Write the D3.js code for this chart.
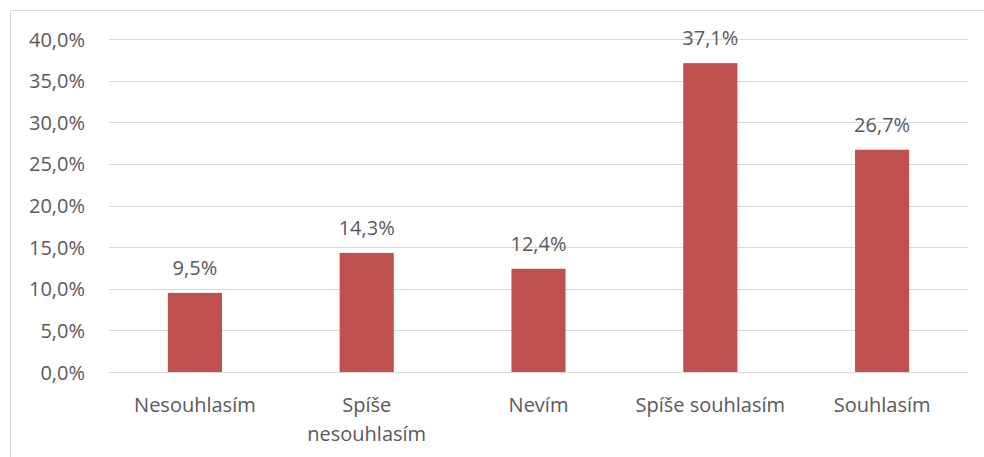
<!DOCTYPE html>
<html>
<head>
<meta charset="utf-8">
<script src="https://cdn.jsdelivr.net/npm/d3@7"></script>
<style>
  html, body { margin: 0; padding: 0; background: #fff; }
  svg { display: block; }
  text { font-family: "Open Sans", sans-serif; fill: #595959; }
</style>
</head>
<body>
<svg id="chart" width="984" height="457"></svg>
<script>
// Survey answers and their shares (%)
const categories = ["Nesouhlasím", "Spíše nesouhlasím", "Nevím", "Spíše souhlasím", "Souhlasím"];
const categoryLines = [["Nesouhlasím"], ["Spíše", "nesouhlasím"], ["Nevím"], ["Spíše souhlasím"], ["Souhlasím"]];
const values = [9.5, 14.3, 12.4, 37.1, 26.7];
const yTicks = [0, 5, 10, 15, 20, 25, 30, 35, 40];

const svg = d3.select("#chart");
const W = 984, H = 457;
const plot = { left: 109, right: 968, top: 39, bottom: 372 };
const fmt = v => d3.format(".1f")(v).replace(".", ",") + "%";
const fontSize = "20px";

// Outer frame of the chart area
svg.append("rect")
  .attr("x", 10.5).attr("y", 10.5)
  .attr("width", W + 20).attr("height", H + 20)
  .attr("fill", "none").attr("stroke", "#d9d9d9").attr("stroke-width", 1);

const x = d3.scaleBand().domain(categories).range([plot.left, plot.right]).paddingInner(0.685).paddingOuter(0.3425);
const y = d3.scaleLinear().domain([0, 40]).range([plot.bottom, plot.top]);

// Horizontal gridlines
svg.append("g").selectAll("line").data(yTicks).join("line")
  .attr("x1", plot.left).attr("x2", plot.right)
  .attr("y1", d => Math.round(y(d)) + 0.5).attr("y2", d => Math.round(y(d)) + 0.5)
  .attr("stroke", "#d9d9d9").attr("stroke-width", 1);

// Y-axis tick labels
svg.append("g").selectAll("text").data(yTicks).join("text")
  .attr("x", 85).attr("y", d => y(d) + 7.5)
  .attr("text-anchor", "end")
  .style("font-size", fontSize)
  .text(d => fmt(d));

// Bars
svg.append("g").selectAll("rect").data(values).join("rect")
  .attr("x", (d, i) => x(categories[i]))
  .attr("y", d => y(d))
  .attr("width", x.bandwidth())
  .attr("height", d => y(0) - y(d))
  .attr("fill", "#c0504d");

// Value labels above bars
svg.append("g").selectAll("text").data(values).join("text")
  .attr("x", (d, i) => x(categories[i]) + x.bandwidth() / 2)
  .attr("y", d => y(d) - 18)
  .attr("text-anchor", "middle")
  .style("font-size", fontSize)
  .text(d => fmt(d));

// Category labels
const cat = svg.append("g").selectAll("text").data(categoryLines).join("text")
  .attr("x", (d, i) => x(categories[i]) + x.bandwidth() / 2)
  .attr("y", 412)
  .attr("text-anchor", "middle")
  .style("font-size", fontSize);
cat.selectAll("tspan").data(d => d).join("tspan")
  .attr("x", function () { return d3.select(this.parentNode).attr("x"); })
  .attr("dy", (d, i) => i === 0 ? 0 : 29)
  .text(d => d);
</script>
</body>
</html>
